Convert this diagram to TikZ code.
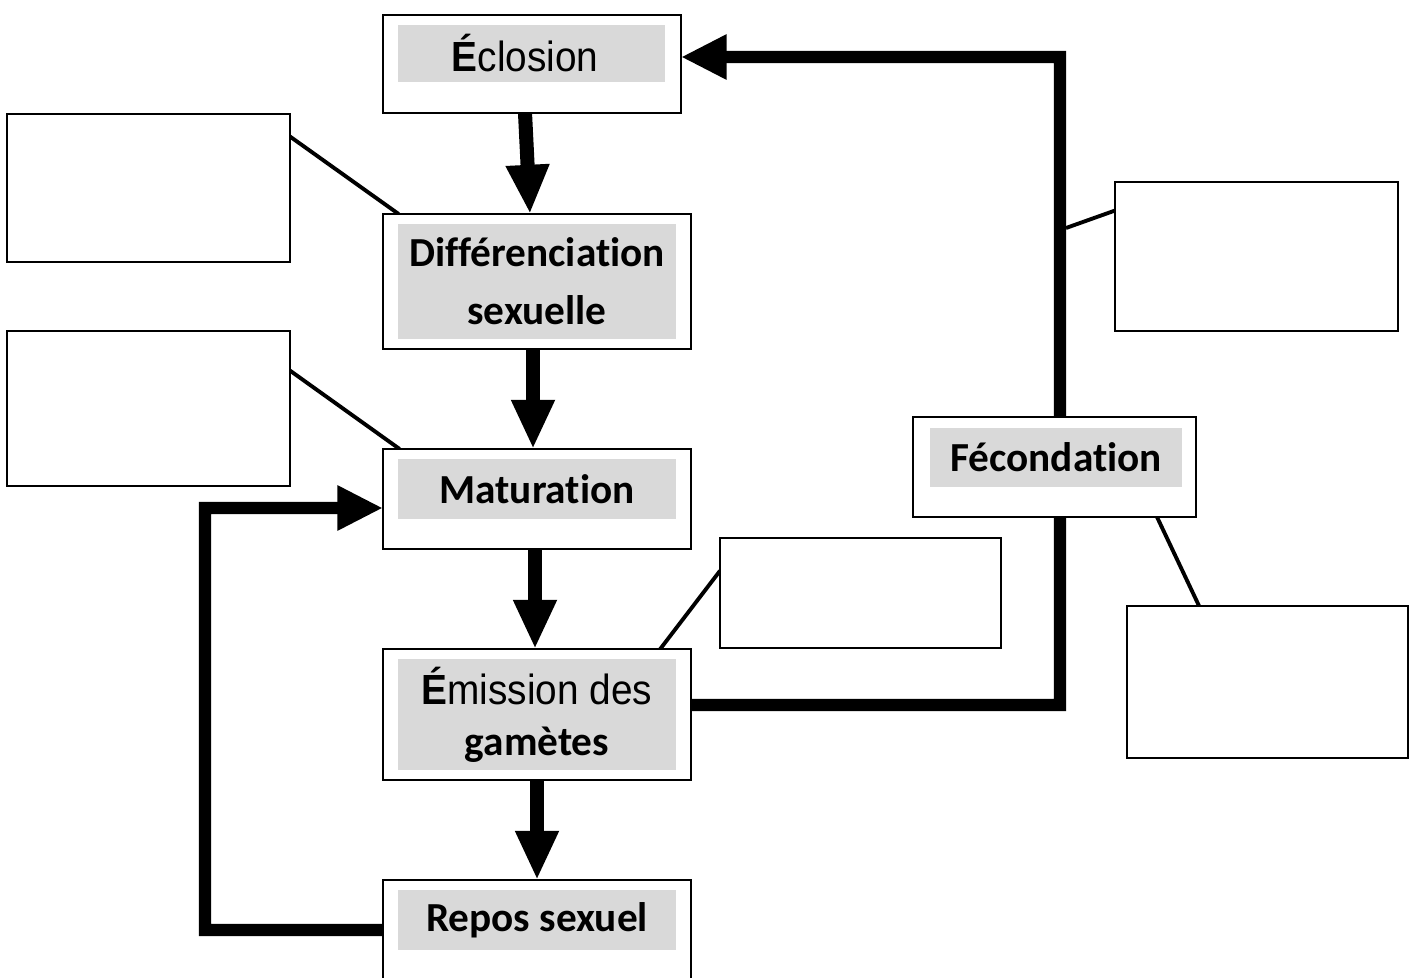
\documentclass[tikz,border=0pt]{standalone}
\usepackage{fontspec}
\setmainfont{Carlito}[RawFeature={-liga,-calt,-clig,-dlig}]
\newfontfamily\narrowfont[FakeStretch=0.92]{Liberation Sans}
\usetikzlibrary{arrows.meta,backgrounds}
\tikzset{x=0.02cm, y=-0.02cm,
    outer box/.style={draw, line width=1.2pt, fill=white, inner sep=0pt, outer sep=0pt},
    label box/.style={fill=black!15, inner sep=0pt, outer sep=0pt, align=center,
        font=\fontsize{23.5}{33}\selectfont\bfseries},
    empty box/.style={draw, line width=1.2pt, fill=white, inner sep=0pt, outer sep=0pt},
    stage arrow/.style={line width=8pt, -{Triangle[length=28pt,width=23pt]}},
    loop arrow/.style={line width=7pt, -{Triangle[length=26pt,width=24pt]}},
    note line/.style={line width=2.2pt},
    }
\begin{document}
\begin{tikzpicture}
\clip (0,0) rectangle (1416,977);
%stages
\node[outer box, minimum width=5.96cm, minimum height=1.96cm] (eclosion) at (532,64) {};
\node[label box, minimum width=5.34cm, minimum height=1.14cm, font=\fontsize{24}{28}\narrowfont]
    (eclosionlabel) at (531.5,53.5) {\textbf{É}closion\hspace{0.25cm}};
\node[outer box, minimum width=6.16cm, minimum height=2.70cm] (diff) at (537,281.5) {};
\node[label box, minimum width=5.56cm, minimum height=2.30cm]
    (difflabel) at (537,281.5) {Différenciation\\sexuelle};
\node[outer box, minimum width=6.16cm, minimum height=2.00cm] (matur) at (537,499) {};
\node[label box, minimum width=5.56cm, minimum height=1.20cm]
    (maturlabel) at (537,489) {Maturation};
\node[outer box, minimum width=6.16cm, minimum height=2.62cm] (emission) at (537,714.5) {};
\node[label box, minimum width=5.56cm, minimum height=2.22cm]
    (emissionlabel) at (537,714.5)
    {{\fontsize{24}{26}\narrowfont\mdseries\textbf{É}mission des}\\[-4pt]gamètes};
\node[outer box, minimum width=6.16cm, minimum height=2.40cm] (repos) at (537,940) {};
\node[label box, minimum width=5.56cm, minimum height=1.20cm]
    (reposlabel) at (537,920) {Repos sexuel};
\node[outer box, minimum width=5.66cm, minimum height=2.00cm] (fecond) at (1054.5,467) {};
\node[label box, minimum width=5.04cm, minimum height=1.18cm]
    (fecondlabel) at (1056,457.5) {Fécondation};
%empty boxes
\node[empty box, minimum width=5.66cm, minimum height=2.96cm] (leftA) at (148.5,188) {};
\node[empty box, minimum width=5.66cm, minimum height=3.10cm] (leftB) at (148.5,408.5) {};
\node[empty box, minimum width=5.66cm, minimum height=2.98cm] (rightA) at (1256.5,256.5) {};
\node[empty box, minimum width=5.62cm, minimum height=2.20cm] (middle) at (860.5,593) {};
\node[empty box, minimum width=5.62cm, minimum height=3.04cm] (rightB) at (1267.5,682) {};
\coordinate (fecjoint) at (1066,228);
\begin{scope}[on background layer]
\fill[white] (0,0) rectangle (1416,977);
\draw[stage arrow] ([xshift=-0.14cm]eclosion.south) -- ([xshift=-0.14cm]diff.north);
\draw[stage arrow] ([xshift=-0.08cm]diff.south) -- ([xshift=-0.08cm]matur.north);
\draw[stage arrow] ([xshift=-0.04cm]matur.south) -- ([xshift=-0.04cm]emission.north);
\draw[stage arrow] ([xshift=0cm]emission.south) -- ([xshift=0cm]repos.north);
%feedback
\draw[loop arrow] ([yshift=0.2cm]repos.west) -| (205,508) -- ([yshift=-0.18cm]matur.west);
\draw[loop arrow] ([yshift=0.19cm]emission.east) -| (1060,57) -- ([yshift=0.14cm]eclosion.east);
%notes
\draw[note line] (leftA.20) -- (diff.154);
\draw[note line] (leftB.15) -- (matur.160);
\draw[note line] (rightA.162.5) -- (fecjoint);
\draw[note line] (middle.171.5) -- (emission.28.6);
\draw[note line] (fecond.334.6) -- (rightB.132.4);
\end{scope}
\end{tikzpicture}
\end{document}
